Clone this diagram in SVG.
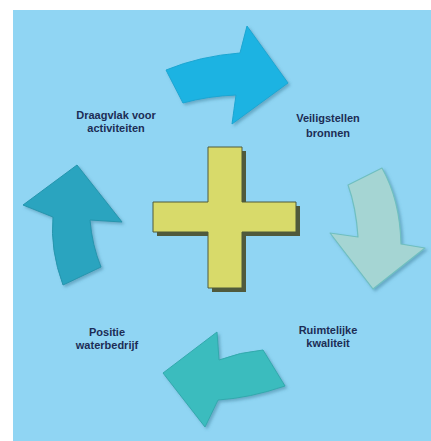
<svg xmlns="http://www.w3.org/2000/svg" width="431" height="441" viewBox="0 0 431 441">
<defs>
<filter id="sh" x="-20%" y="-20%" width="140%" height="140%">
<feDropShadow dx="2" dy="2" stdDeviation="1.5" flood-color="#3a7f9a" flood-opacity="0.5"/>
</filter>
<style>
.lbl{font-family:"Liberation Sans",Arial,sans-serif;font-weight:bold;font-size:11px;fill:#1c2d55;text-anchor:middle}
.arrow{filter:url(#sh);stroke-linejoin:round}
</style>
</defs>
<rect x="0" y="0" width="431" height="441" fill="#ffffff"/>
<rect x="13" y="10" width="418" height="431" fill="#90d5f3"/>
<g id="connectors">
<path id="arrow-top" class="arrow" d="M166,70 Q200,56 240,53 L247,26 L288,83 L232,124 L236,95 Q208,96 183,103 Z" fill="#1cb3e2" stroke="#1aa6d2" stroke-width="1"/>
<path id="arrow-right" class="arrow" d="M348,185 Q356,207 358,237 L330,233 L373,289 L425,248 L401,244 Q400,200 382,168 Z" fill="#a5d5d3" stroke="#6fbfc0" stroke-width="1.2"/>
<path id="arrow-bottom" class="arrow" d="M263,350 Q240,352 219,360 L217,332 L163,373 L205,427 L218,400 Q250,398 285,386 Z" fill="#3bbcbe" stroke="#33a9ad" stroke-width="1"/>
<path id="arrow-left" class="arrow" d="M63,285 Q50,250 53,217 L23,205 L77,165 L122,222 L90,220 Q92,245 101,267 Z" fill="#2aa4bf" stroke="#2595ad" stroke-width="1"/>
</g>
<g id="cross">
<path d="M212,151 H246 V206 H300 V236 H246 V292 H212 V236 H157 V206 H212 Z" fill="#505a3c"/>
<path d="M208,147 H242 V202 H296 V232 H242 V288 H208 V232 H153 V202 H208 Z" fill="#d8da6a" stroke="#4f5a3a" stroke-width="1"/>
</g>
<g id="node-draagvlak">
<text class="lbl" x="116" y="119">Draagvlak voor</text>
<text class="lbl" x="116" y="132">activiteiten</text>
</g>
<g id="node-veiligstellen">
<text class="lbl" x="328" y="122">Veiligstellen</text>
<text class="lbl" x="328" y="137">bronnen</text>
</g>
<g id="node-ruimtelijke">
<text class="lbl" x="328" y="334">Ruimtelijke</text>
<text class="lbl" x="328" y="347">kwaliteit</text>
</g>
<g id="node-positie">
<text class="lbl" x="107" y="336">Positie</text>
<text class="lbl" x="107" y="349">waterbedrijf</text>
</g>
</svg>
